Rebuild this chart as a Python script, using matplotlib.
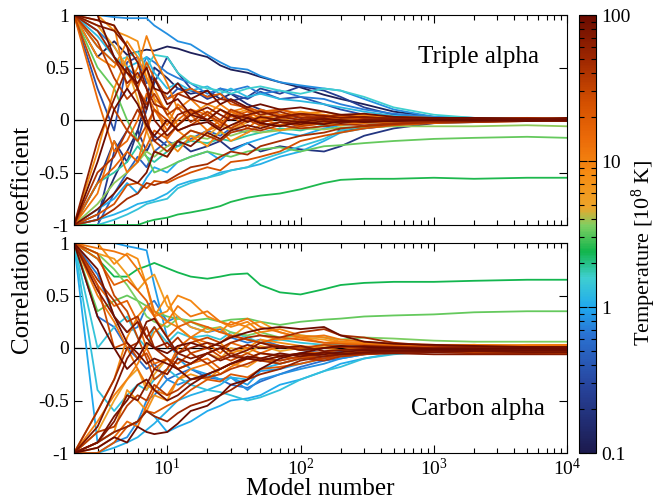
import numpy as np
import matplotlib
matplotlib.use('Agg')
import matplotlib.pyplot as plt
from matplotlib.colors import LinearSegmentedColormap, LogNorm
from matplotlib.ticker import LogLocator, NullFormatter

plt.rcParams['font.family'] = ['Liberation Serif', 'DejaVu Serif']
plt.rcParams['mathtext.fontset'] = 'custom'
plt.rcParams['mathtext.rm'] = 'Liberation Serif'
plt.rcParams['mathtext.it'] = 'Liberation Serif:italic'

# model numbers at which the running correlation is sampled
model_number = [2, 3, 4, 5, 6, 7, 8, 10, 12, 15, 20, 25, 30, 40, 50, 70,
                100, 150, 200, 300, 500, 1000, 2000, 5000, 10000]

# triple alpha: temperature of each zone [1e8 K] and its correlation track
ta_temperature = [0.12, 0.15, 0.2, 0.25, 0.35, 0.5, 0.7, 0.8, 1.0, 1.1, 1.2, 1.35,
                  1.6, 1.8, 2.5, 3.3, 3.8, 5, 7, 8, 9, 10, 12, 15, 18, 20, 25,
                  30, 35, 40, 45, 50, 60, 70, 80, 85, 90, 100]
ta_corr = [
    [1, 0.6, 0.75, 0.62, 0.65, 0.67, 0.66, 0.7, 0.68, 0.64, 0.6, 0.52, 0.48, 0.45, 0.41, 0.36, 0.31, 0.24, 0.2, 0.15, 0.08, 0.03, 0.01, 0.0, 0.0],
    [-1, -0.9, -0.55, -0.3, -0.1, 0.2, 0.5, 0.4, 0.3, 0.25, 0.28, 0.2, 0.25, 0.15, 0.1, 0.05, 0.02, -0.05, -0.1, -0.08, -0.05, -0.02, 0.0, 0.01, 0.01],
    [-1, -0.6, -0.2, -0.4, -0.1, -0.3, -0.15, -0.25, -0.2, -0.3, -0.25, -0.2, -0.28, -0.22, -0.3, -0.25, -0.28, -0.3, -0.25, -0.15, -0.08, -0.03, -0.02, 0.0, 0.0],
    [-1, -0.95, -0.3, -0.1, -0.2, 0.1, 0.35, 0.6, 0.45, 0.3, 0.2, 0.25, 0.18, 0.22, 0.3, 0.25, 0.32, 0.28, 0.22, 0.12, 0.05, 0.02, 0.01, 0.0, 0.0],
    [1, 0.3, -0.1, 0.55, 0.6, 0.35, 0.4, 0.2, 0.3, 0.28, 0.22, 0.3, 0.25, 0.2, 0.27, 0.2, 0.22, 0.15, 0.1, 0.05, 0.03, 0.01, 0.0, 0.0, 0.0],
    [-1, -1, -0.7, -0.5, -0.35, -0.45, -0.3, -0.2, -0.25, -0.18, -0.1, -0.15, -0.08, -0.12, -0.05, -0.1, -0.05, -0.02, 0.02, 0.0, -0.02, 0.0, 0.01, 0.0, 0.0],
    [1, 0.85, 0.7, 0.5, 0.4, 0.6, 0.55, 0.45, 0.4, 0.35, 0.25, 0.3, 0.28, 0.32, 0.25, 0.28, 0.22, 0.2, 0.15, 0.1, 0.06, 0.03, 0.02, 0.01, 0.01],
    [1, 1, 0.98, 0.97, 0.97, 0.97, 0.9, 0.82, 0.75, 0.72, 0.62, 0.55, 0.5, 0.48, 0.42, 0.36, 0.33, 0.3, 0.28, 0.2, 0.1, 0.03, 0.02, 0.01, 0.01],
    [-1, -0.85, -0.75, -0.6, -0.7, -0.55, -0.45, -0.5, -0.4, -0.35, -0.3, -0.38, -0.3, -0.22, -0.18, -0.12, -0.15, -0.08, -0.05, -0.03, -0.02, 0.0, 0.0, 0.01, 0.0],
    [-1, -0.95, -0.9, -0.85, -0.8, -0.78, -0.76, -0.7, -0.62, -0.58, -0.55, -0.5, -0.48, -0.45, -0.42, -0.35, -0.3, -0.2, -0.12, -0.08, -0.04, -0.02, -0.01, 0.0, 0.0],
    [1, 0.8, 0.6, 0.5, 0.55, 0.6, 0.45, 0.3, 0.35, 0.28, 0.32, 0.25, 0.3, 0.22, 0.25, 0.2, 0.18, 0.15, 0.12, 0.08, 0.04, 0.02, 0.01, 0.01, 0.0],
    [-1, -1, -0.95, -0.9, -0.85, -0.8, -0.78, -0.75, -0.65, -0.6, -0.55, -0.52, -0.48, -0.45, -0.38, -0.32, -0.25, -0.18, -0.1, -0.06, -0.03, -0.01, 0.0, 0.0, 0.0],
    [1, 0.7, 0.55, 0.6, 0.65, 0.5, 0.62, 0.6, 0.45, 0.35, 0.3, 0.28, 0.25, 0.3, 0.32, 0.28, 0.25, 0.3, 0.28, 0.22, 0.12, 0.05, 0.02, 0.01, 0.01],
    [-1, -0.6, -0.5, -0.4, -0.25, -0.35, -0.4, -0.3, -0.25, -0.2, -0.22, -0.18, -0.2, -0.15, -0.12, -0.08, -0.1, -0.05, -0.02, 0.0, 0.0, 0.0, 0.01, 0.0, 0.0],
    [-1, -1, -1, -1, -1, -0.97, -0.95, -0.93, -0.9, -0.88, -0.85, -0.82, -0.78, -0.74, -0.72, -0.7, -0.66, -0.6, -0.57, -0.56, -0.56, -0.55, -0.56, -0.55, -0.55],
    [1, 0.5, 0.3, 0.0, -0.2, -0.35, -0.5, -0.45, -0.4, -0.35, -0.3, -0.33, -0.35, -0.3, -0.28, -0.26, -0.3, -0.25, -0.24, -0.22, -0.2, -0.18, -0.17, -0.16, -0.17],
    [-1, -0.8, -0.6, -0.5, -0.4, -0.3, -0.35, -0.25, -0.2, -0.15, -0.18, -0.12, -0.15, -0.1, -0.12, -0.1, -0.08, -0.09, -0.07, -0.07, -0.06, -0.06, -0.06, -0.05, -0.06],
    [1, 0.9, 0.7, 0.5, 0.2, -0.1, -0.3, -0.35, -0.2, -0.1, -0.15, -0.05, -0.1, -0.02, 0.05, 0.0, -0.05, 0.0, 0.02, 0.0, 0.01, 0.0, 0.0, 0.0, 0.01],
    [1, 1, 0.85, 0.8, 0.75, 0.4, 0.2, 0.1, -0.05, 0.05, 0.15, 0.1, 0.05, 0.1, 0.0, 0.05, 0.08, 0.05, 0.03, 0.04, 0.02, 0.01, 0.0, 0.0, 0.0],
    [-1, -0.3, 0.3, 0.6, 0.4, 0.5, 0.2, -0.2, -0.3, -0.15, -0.25, -0.1, -0.2, -0.12, -0.05, -0.1, -0.06, -0.03, -0.05, -0.02, -0.03, -0.01, 0.0, -0.01, 0.0],
    [1, 0.6, 0.5, 0.75, 0.6, 0.4, 0.3, 0.05, -0.1, -0.2, -0.1, 0.0, -0.08, 0.05, -0.02, 0.02, -0.03, 0.0, 0.01, -0.02, 0.0, -0.01, 0.0, 0.0, -0.01],
    [1, 0.95, 0.9, 0.3, 0.5, 0.8, 0.6, 0.35, 0.1, 0.2, 0.05, 0.15, 0.08, 0.12, 0.05, 0.1, 0.06, 0.08, 0.04, 0.05, 0.03, 0.02, 0.01, 0.01, 0.02],
    [-1, -0.7, -0.2, -0.5, -0.4, -0.1, 0.1, -0.05, 0.15, 0.05, -0.1, -0.05, 0.05, -0.08, 0.02, -0.05, 0.0, -0.04, -0.02, -0.03, -0.01, 0.0, -0.01, -0.01, 0.0],
    [1, 0.2, -0.3, -0.2, 0.0, 0.25, 0.1, -0.1, 0.0, 0.1, 0.05, -0.05, 0.08, 0.02, 0.1, 0.05, 0.0, 0.05, 0.02, 0.03, 0.01, 0.02, 0.01, 0.01, 0.01],
    [-1, -0.6, -0.45, -0.3, -0.4, -0.25, -0.1, -0.18, -0.05, 0.08, 0.0, 0.1, 0.03, 0.08, 0.02, 0.05, 0.03, 0.0, 0.03, 0.01, 0.02, 0.0, 0.01, 0.0, 0.01],
    [1, 0.7, 0.55, 0.45, 0.3, 0.55, 0.4, 0.2, 0.25, 0.3, 0.22, 0.25, 0.15, 0.12, 0.08, 0.1, 0.05, 0.02, 0.03, 0.0, 0.01, 0.0, -0.01, 0.0, 0.0],
    [-1, -0.9, -0.8, -0.62, -0.6, -0.65, -0.58, -0.6, -0.55, -0.5, -0.45, -0.48, -0.4, -0.38, -0.35, -0.3, -0.2, -0.15, -0.12, -0.08, -0.05, -0.03, -0.02, -0.01, -0.01],
    [1, 0.4, 0.1, -0.1, -0.2, -0.05, 0.1, 0.0, -0.1, -0.05, 0.05, -0.02, -0.08, 0.0, -0.05, -0.02, -0.06, -0.03, 0.0, -0.02, 0.0, 0.01, 0.01, 0.02, 0.01],
    [1, 0.75, 0.4, 0.2, 0.3, 0.15, 0.25, 0.05, 0.12, -0.02, 0.08, 0.0, 0.1, 0.04, -0.02, 0.02, 0.05, 0.0, -0.02, 0.01, 0.02, 0.0, 0.0, 0.01, 0.0],
    [-1, -0.5, -0.35, -0.1, 0.1, -0.05, -0.2, -0.3, -0.2, -0.1, -0.15, -0.2, -0.12, -0.08, -0.1, -0.05, -0.08, -0.06, -0.04, -0.05, -0.03, -0.02, -0.01, -0.01, -0.01],
    [-1, -0.95, -0.85, -0.75, -0.7, -0.6, -0.62, -0.58, -0.52, -0.45, -0.42, -0.35, -0.3, -0.33, -0.25, -0.2, -0.15, -0.12, -0.08, -0.06, -0.04, -0.02, -0.02, -0.01, -0.01],
    [1, 0.85, 0.6, 0.35, 0.45, 0.3, 0.15, 0.1, 0.25, 0.2, 0.15, 0.2, 0.18, 0.1, 0.05, 0.08, 0.02, 0.03, 0.05, 0.02, 0.02, 0.01, 0.01, 0.02, 0.01],
    [-1, -0.2, 0.2, 0.5, 0.3, 0.0, -0.2, -0.1, 0.05, 0.1, 0.0, -0.08, 0.05, 0.02, -0.03, 0.03, 0.0, 0.02, -0.02, 0.0, 0.0, -0.01, 0.0, 0.0, 0.0],
    [1, 0.9, 0.85, 0.7, 0.55, 0.3, 0.0, -0.15, -0.05, 0.05, 0.12, 0.05, 0.0, 0.05, 0.08, 0.03, 0.06, 0.04, 0.02, 0.03, 0.01, 0.01, 0.02, 0.01, 0.01],
    [-1, -0.85, -0.7, -0.55, -0.6, -0.5, -0.3, -0.35, -0.2, -0.25, -0.12, -0.18, -0.1, -0.05, -0.08, -0.02, -0.04, -0.01, -0.03, 0.0, -0.01, 0.0, 0.0, 0.0, 0.0],
    [1, 0.95, 0.9, 0.7, 0.3, 0.1, 0.4, 0.15, 0.2, 0.05, 0.0, 0.1, 0.05, -0.02, 0.03, 0.0, -0.02, 0.01, 0.0, -0.01, 0.0, 0.0, -0.01, 0.0, -0.01],
    [1, 1, 0.6, 0.45, 0.35, 0.5, 0.3, 0.25, 0.35, 0.2, 0.28, 0.15, 0.2, 0.12, 0.15, 0.1, 0.12, 0.08, 0.05, 0.06, 0.03, 0.02, 0.02, 0.01, 0.02],
    [-1, -0.4, 0.1, 0.3, 0.15, -0.05, -0.15, 0.0, -0.1, -0.05, -0.02, -0.1, -0.05, 0.02, -0.03, -0.06, -0.02, -0.04, -0.01, -0.02, -0.01, 0.0, 0.0, -0.01, 0.0],
]

# carbon alpha
ca_temperature = [0.6, 0.7, 0.8, 0.9, 1.0, 1.1, 1.3, 1.4, 2.4, 3.3, 3.6, 5, 6, 7, 8,
                  9, 10, 11, 12, 14, 16, 18, 22, 28, 30, 35, 40, 45, 55, 65, 70,
                  75, 85, 90, 95, 100]
ca_corr = [
    [1, 0.3, 0.2, 0.0, -0.1, -0.2, -0.15, -0.3, -0.25, -0.2, -0.28, -0.3, -0.35, -0.38, -0.32, -0.25, -0.18, -0.12, -0.1, -0.06, -0.03, -0.02, -0.01, 0.0, 0.0],
    [1, 0.7, 0.3, 0.15, 0.2, 0.4, 0.45, 0.25, 0.3, 0.2, 0.15, 0.18, 0.1, 0.05, 0.08, 0.02, -0.02, -0.05, -0.03, -0.02, -0.01, 0.0, 0.0, 0.0, 0.0],
    [-1, -1, -0.9, -0.85, -0.7, -0.5, -0.45, -0.3, -0.35, -0.3, -0.25, -0.3, -0.28, -0.4, -0.3, -0.25, -0.2, -0.15, -0.1, -0.06, -0.04, -0.02, -0.01, 0.0, 0.0],
    [1, 1, 1, 0.97, 0.95, 0.93, 0.6, 0.1, -0.1, -0.2, -0.25, -0.3, -0.28, -0.35, -0.22, -0.2, -0.15, -0.1, -0.08, -0.05, -0.03, -0.02, -0.01, -0.01, 0.0],
    [1, -0.9, -0.8, -0.75, -0.7, -0.6, -0.65, -0.8, -0.75, -0.7, -0.6, -0.55, -0.5, -0.48, -0.45, -0.35, -0.3, -0.22, -0.15, -0.1, -0.05, -0.03, -0.02, 0.0, -0.01],
    [-1, -1, -0.95, -0.9, -0.85, -0.78, -0.72, -0.6, -0.5, -0.45, -0.4, -0.35, -0.28, -0.3, -0.2, -0.15, -0.1, -0.08, -0.05, -0.04, -0.02, -0.01, 0.0, 0.0, 0.0],
    [1, -0.4, -0.6, -0.45, -0.35, -0.4, -0.3, -0.2, -0.28, -0.35, -0.4, -0.42, -0.45, -0.5, -0.47, -0.4, -0.3, -0.22, -0.18, -0.1, -0.06, -0.03, -0.01, 0.0, 0.0],
    [1, 0.0, 0.2, 0.3, 0.1, 0.0, 0.2, 0.05, 0.15, 0.1, 0.12, 0.08, 0.15, 0.1, 0.05, 0.08, 0.05, 0.03, 0.04, 0.02, 0.01, 0.01, 0.02, 0.01, 0.01],
    [1, 0.85, 0.68, 0.68, 0.75, 0.78, 0.81, 0.76, 0.72, 0.68, 0.66, 0.68, 0.7, 0.71, 0.6, 0.53, 0.51, 0.56, 0.6, 0.62, 0.63, 0.63, 0.64, 0.65, 0.65],
    [1, 0.35, 0.45, 0.5, 0.45, 0.4, 0.35, 0.3, 0.28, 0.26, 0.28, 0.25, 0.27, 0.28, 0.25, 0.22, 0.25, 0.27, 0.28, 0.3, 0.31, 0.32, 0.34, 0.35, 0.35],
    [1, 0.9, 0.75, 0.6, 0.45, 0.3, 0.25, 0.2, 0.28, 0.25, 0.18, 0.2, 0.15, 0.12, 0.15, 0.1, 0.12, 0.1, 0.08, 0.1, 0.09, 0.07, 0.06, 0.06, 0.06],
    [-1, -0.8, -0.5, -0.3, -0.2, -0.4, -0.25, -0.1, -0.2, -0.15, -0.05, -0.1, 0.0, -0.05, 0.02, -0.03, 0.0, 0.02, 0.01, 0.0, 0.0, 0.0, 0.01, 0.0, 0.0],
    [1, 0.9, 0.85, 0.7, 0.55, 0.65, 0.7, 0.4, 0.3, 0.2, 0.15, 0.2, 0.1, 0.22, 0.25, 0.15, 0.1, 0.08, 0.05, 0.03, 0.04, 0.02, 0.03, 0.02, 0.02],
    [-1, -0.9, -0.8, -0.4, -0.5, -0.6, -0.45, -0.5, -0.3, -0.25, -0.3, -0.2, -0.15, -0.18, -0.1, -0.15, -0.1, -0.05, -0.06, -0.04, -0.03, -0.02, -0.01, -0.02, -0.01],
    [1, 1, 0.8, 0.9, 0.85, 0.6, 0.3, 0.5, 0.2, 0.1, 0.0, 0.05, -0.05, 0.0, 0.08, 0.05, 0.02, 0.0, -0.02, 0.0, -0.01, 0.0, 0.0, 0.01, 0.0],
    [-1, -0.6, -0.3, 0.1, 0.3, 0.4, 0.3, 0.35, 0.5, 0.45, 0.3, 0.25, 0.2, 0.25, 0.15, 0.18, 0.12, 0.1, 0.06, 0.05, 0.03, 0.03, 0.02, 0.03, 0.03],
    [-1, -0.7, -0.45, -0.3, -0.15, 0.0, 0.15, 0.25, 0.2, 0.1, 0.2, 0.15, 0.25, 0.2, 0.12, 0.08, 0.1, 0.05, 0.06, 0.04, 0.02, 0.02, 0.03, 0.02, 0.02],
    [1, 0.5, 0.25, 0.0, -0.2, -0.35, -0.4, -0.45, -0.3, -0.2, -0.15, -0.25, -0.18, -0.1, -0.12, -0.08, -0.1, -0.06, -0.05, -0.04, -0.02, -0.02, -0.03, -0.02, -0.02],
    [1, 0.95, 0.92, 0.88, 0.75, 0.6, 0.35, 0.25, 0.4, 0.3, 0.35, 0.25, 0.22, 0.28, 0.2, 0.15, 0.1, 0.12, 0.08, 0.06, 0.04, 0.03, 0.03, 0.02, 0.03],
    [-1, -0.95, -0.85, -0.7, -0.75, -0.55, -0.4, -0.2, 0.0, 0.1, 0.05, -0.05, 0.05, 0.0, -0.05, 0.02, -0.02, 0.0, 0.01, -0.01, 0.0, 0.01, 0.0, 0.0, 0.01],
    [1, 0.6, 0.4, 0.45, 0.25, 0.0, -0.15, -0.1, -0.2, -0.15, -0.1, -0.2, -0.15, -0.1, -0.05, -0.08, -0.05, -0.04, -0.02, -0.01, 0.0, 0.0, -0.01, 0.0, 0.0],
    [1, 0.85, 0.6, 0.65, 0.55, 0.45, 0.3, 0.1, 0.2, 0.25, 0.2, 0.15, 0.12, 0.08, 0.05, 0.1, 0.08, 0.05, 0.04, 0.03, 0.02, 0.01, 0.01, 0.0, 0.01],
    [-1, -1, -0.9, -0.75, -0.7, -0.6, -0.62, -0.55, -0.5, -0.4, -0.3, -0.32, -0.25, -0.28, -0.2, -0.18, -0.15, -0.1, -0.08, -0.06, -0.04, -0.03, -0.04, -0.05, -0.05],
    [1, 0.6, 0.0, 0.05, -0.1, -0.05, -0.2, -0.1, -0.15, -0.05, 0.0, -0.08, -0.12, -0.05, -0.1, -0.12, -0.08, -0.05, -0.06, -0.03, -0.02, -0.02, -0.01, -0.02, -0.02],
    [1, 0.9, 0.5, 0.35, 0.1, -0.1, -0.3, -0.2, -0.05, 0.05, 0.1, 0.05, 0.12, 0.08, 0.05, 0.02, 0.0, 0.03, 0.02, 0.0, 0.01, 0.0, 0.01, 0.01, 0.0],
    [-1, -0.8, -0.75, -0.55, -0.45, -0.5, -0.35, -0.45, -0.4, -0.3, -0.28, -0.25, -0.2, -0.15, -0.1, -0.12, -0.08, -0.1, -0.06, -0.05, -0.03, -0.02, -0.01, -0.02, -0.01],
    [1, 0.65, 0.45, 0.25, 0.3, 0.1, 0.2, 0.0, 0.1, -0.05, -0.15, -0.1, -0.05, -0.1, -0.12, -0.15, -0.1, -0.12, -0.08, -0.06, -0.05, -0.04, -0.05, -0.05, -0.04],
    [-1, -0.6, -0.3, 0.0, 0.05, 0.2, 0.0, -0.1, -0.2, -0.15, -0.05, 0.0, 0.05, 0.1, 0.12, 0.1, 0.15, 0.18, 0.12, 0.1, 0.05, 0.02, 0.01, 0.0, 0.0],
    [-1, -0.9, -0.8, -0.75, -0.7, -0.6, -0.65, -0.7, -0.62, -0.55, -0.5, -0.45, -0.4, -0.3, -0.25, -0.2, -0.12, -0.08, -0.06, -0.05, -0.04, -0.03, -0.02, -0.03, -0.03],
    [1, 0.55, 0.3, 0.15, 0.25, 0.1, 0.0, 0.05, -0.05, 0.0, 0.05, 0.02, -0.03, 0.03, 0.0, 0.02, -0.02, 0.0, 0.01, 0.02, 0.01, 0.0, 0.01, 0.01, 0.0],
    [-1, -0.9, -0.7, -0.45, -0.5, -0.35, -0.2, -0.25, -0.1, -0.15, -0.05, -0.12, -0.08, -0.1, -0.05, -0.07, -0.06, -0.08, -0.06, -0.05, -0.05, -0.06, -0.06, -0.06, -0.06],
    [-1, -0.75, -0.4, -0.1, 0.05, 0.25, 0.28, 0.1, -0.05, -0.1, -0.05, 0.0, -0.08, -0.02, 0.05, 0.0, 0.02, -0.03, -0.02, -0.01, 0.0, -0.01, 0.0, -0.01, -0.01],
    [-1, -0.9, -0.65, -0.5, -0.35, -0.3, -0.4, -0.5, -0.45, -0.35, -0.25, -0.2, -0.15, -0.08, -0.1, -0.05, -0.08, -0.04, -0.06, -0.04, -0.03, -0.04, -0.03, -0.04, -0.04],
    [1, 0.75, 0.3, 0.05, -0.05, -0.15, -0.1, -0.15, -0.2, -0.3, -0.25, -0.2, -0.15, -0.1, -0.12, -0.08, -0.05, -0.06, -0.04, -0.02, -0.02, -0.02, -0.02, -0.02, -0.02],
    [1, 0.3, 0.0, -0.2, -0.1, 0.05, 0.0, -0.05, 0.02, 0.05, 0.0, 0.05, 0.1, 0.15, 0.18, 0.2, 0.18, 0.2, 0.12, 0.06, 0.04, 0.03, 0.02, 0.01, 0.01],
    [-1, -0.95, -0.85, -0.9, -0.75, -0.8, -0.82, -0.8, -0.72, -0.6, -0.55, -0.45, -0.35, -0.3, -0.2, -0.1, -0.05, 0.0, 0.02, 0.01, 0.0, -0.01, -0.01, 0.0, -0.01],
]

# temperature palette: navy -> blue -> cyan -> green -> orange -> dark red
temp_cmap = LinearSegmentedColormap.from_list('temp', [
    (0.00, '#1c1a4e'), (0.15, '#27439c'), (0.27, '#2a72d2'), (0.33, '#1fa8ef'),
    (0.40, '#3fcfd0'), (0.46, '#12b54c'), (0.52, '#7fcf62'), (0.56, '#eda52a'),
    (0.64, '#f68b12'), (0.72, '#eb6a08'), (0.80, '#d45000'), (0.90, '#9e2700'),
    (1.00, '#6a0b00')])
norm = LogNorm(vmin=0.1, vmax=100)

fig = plt.figure(figsize=(6.58, 5.0), dpi=100)
ax_top = fig.add_axes([0.1125, 0.55, 0.7495, 0.42])
ax_bot = fig.add_axes([0.1125, 0.094, 0.7495, 0.42])
cax = fig.add_axes([0.880, 0.094, 0.026, 0.876])

panels = [(ax_top, ta_temperature, ta_corr, 'Triple alpha', 0.80),
          (ax_bot, ca_temperature, ca_corr, 'Carbon alpha', 0.21)]
for ax, temps, curves, name, ty in panels:
    ax.axhline(0, color='black', lw=0.9, zorder=0)
    # hottest zones drawn last so they sit on top
    for i in np.argsort(temps, kind='stable'):
        ax.plot(model_number, curves[i], color=temp_cmap(norm(temps[i])), lw=1.3)
    ax.set_xscale('log')
    ax.set_xlim(2, 1e4)
    ax.set_ylim(-1, 1)
    ax.set_yticks([-1, -0.5, 0, 0.5, 1])
    ax.set_yticklabels(['-1', '-0.5', '0', '0.5', '1'])
    ax.xaxis.set_major_locator(LogLocator(base=10, numticks=10))
    ax.xaxis.set_minor_locator(LogLocator(base=10, subs=np.arange(2, 10), numticks=20))
    ax.xaxis.set_minor_formatter(NullFormatter())
    ax.tick_params(which='both', direction='in', top=True, right=True, labelsize=14)
    ax.tick_params(which='major', length=6, width=0.8)
    ax.tick_params(which='minor', length=3.5, width=0.8)
    ax.text(0.82, ty, name, transform=ax.transAxes, ha='center', va='center', fontsize=18)

ax_top.tick_params(labelbottom=False)
ax_bot.set_xlabel('Model number', fontsize=18)
ax_bot.xaxis.set_label_coords(0.5, -0.118)
fig.text(0.035, 0.52, 'Correlation coefficient', rotation=90, ha='center', va='center', fontsize=18)

sm = plt.cm.ScalarMappable(cmap=temp_cmap, norm=norm)
cb = fig.colorbar(sm, cax=cax)
cb.set_ticks([0.1, 1, 10, 100])
cb.set_ticklabels(['0.1', '1', '10', '100'])
cb.ax.tick_params(which='both', direction='in', left=True, right=True, labelsize=14, width=0.8)
cb.ax.tick_params(which='major', length=6)
cb.ax.tick_params(which='minor', length=3.5)
fig.text(0.979, 0.494, 'Temperature [10$^8$ K]', rotation=90, ha='center', va='center', fontsize=16)

fig.savefig('out.png', dpi=100)
